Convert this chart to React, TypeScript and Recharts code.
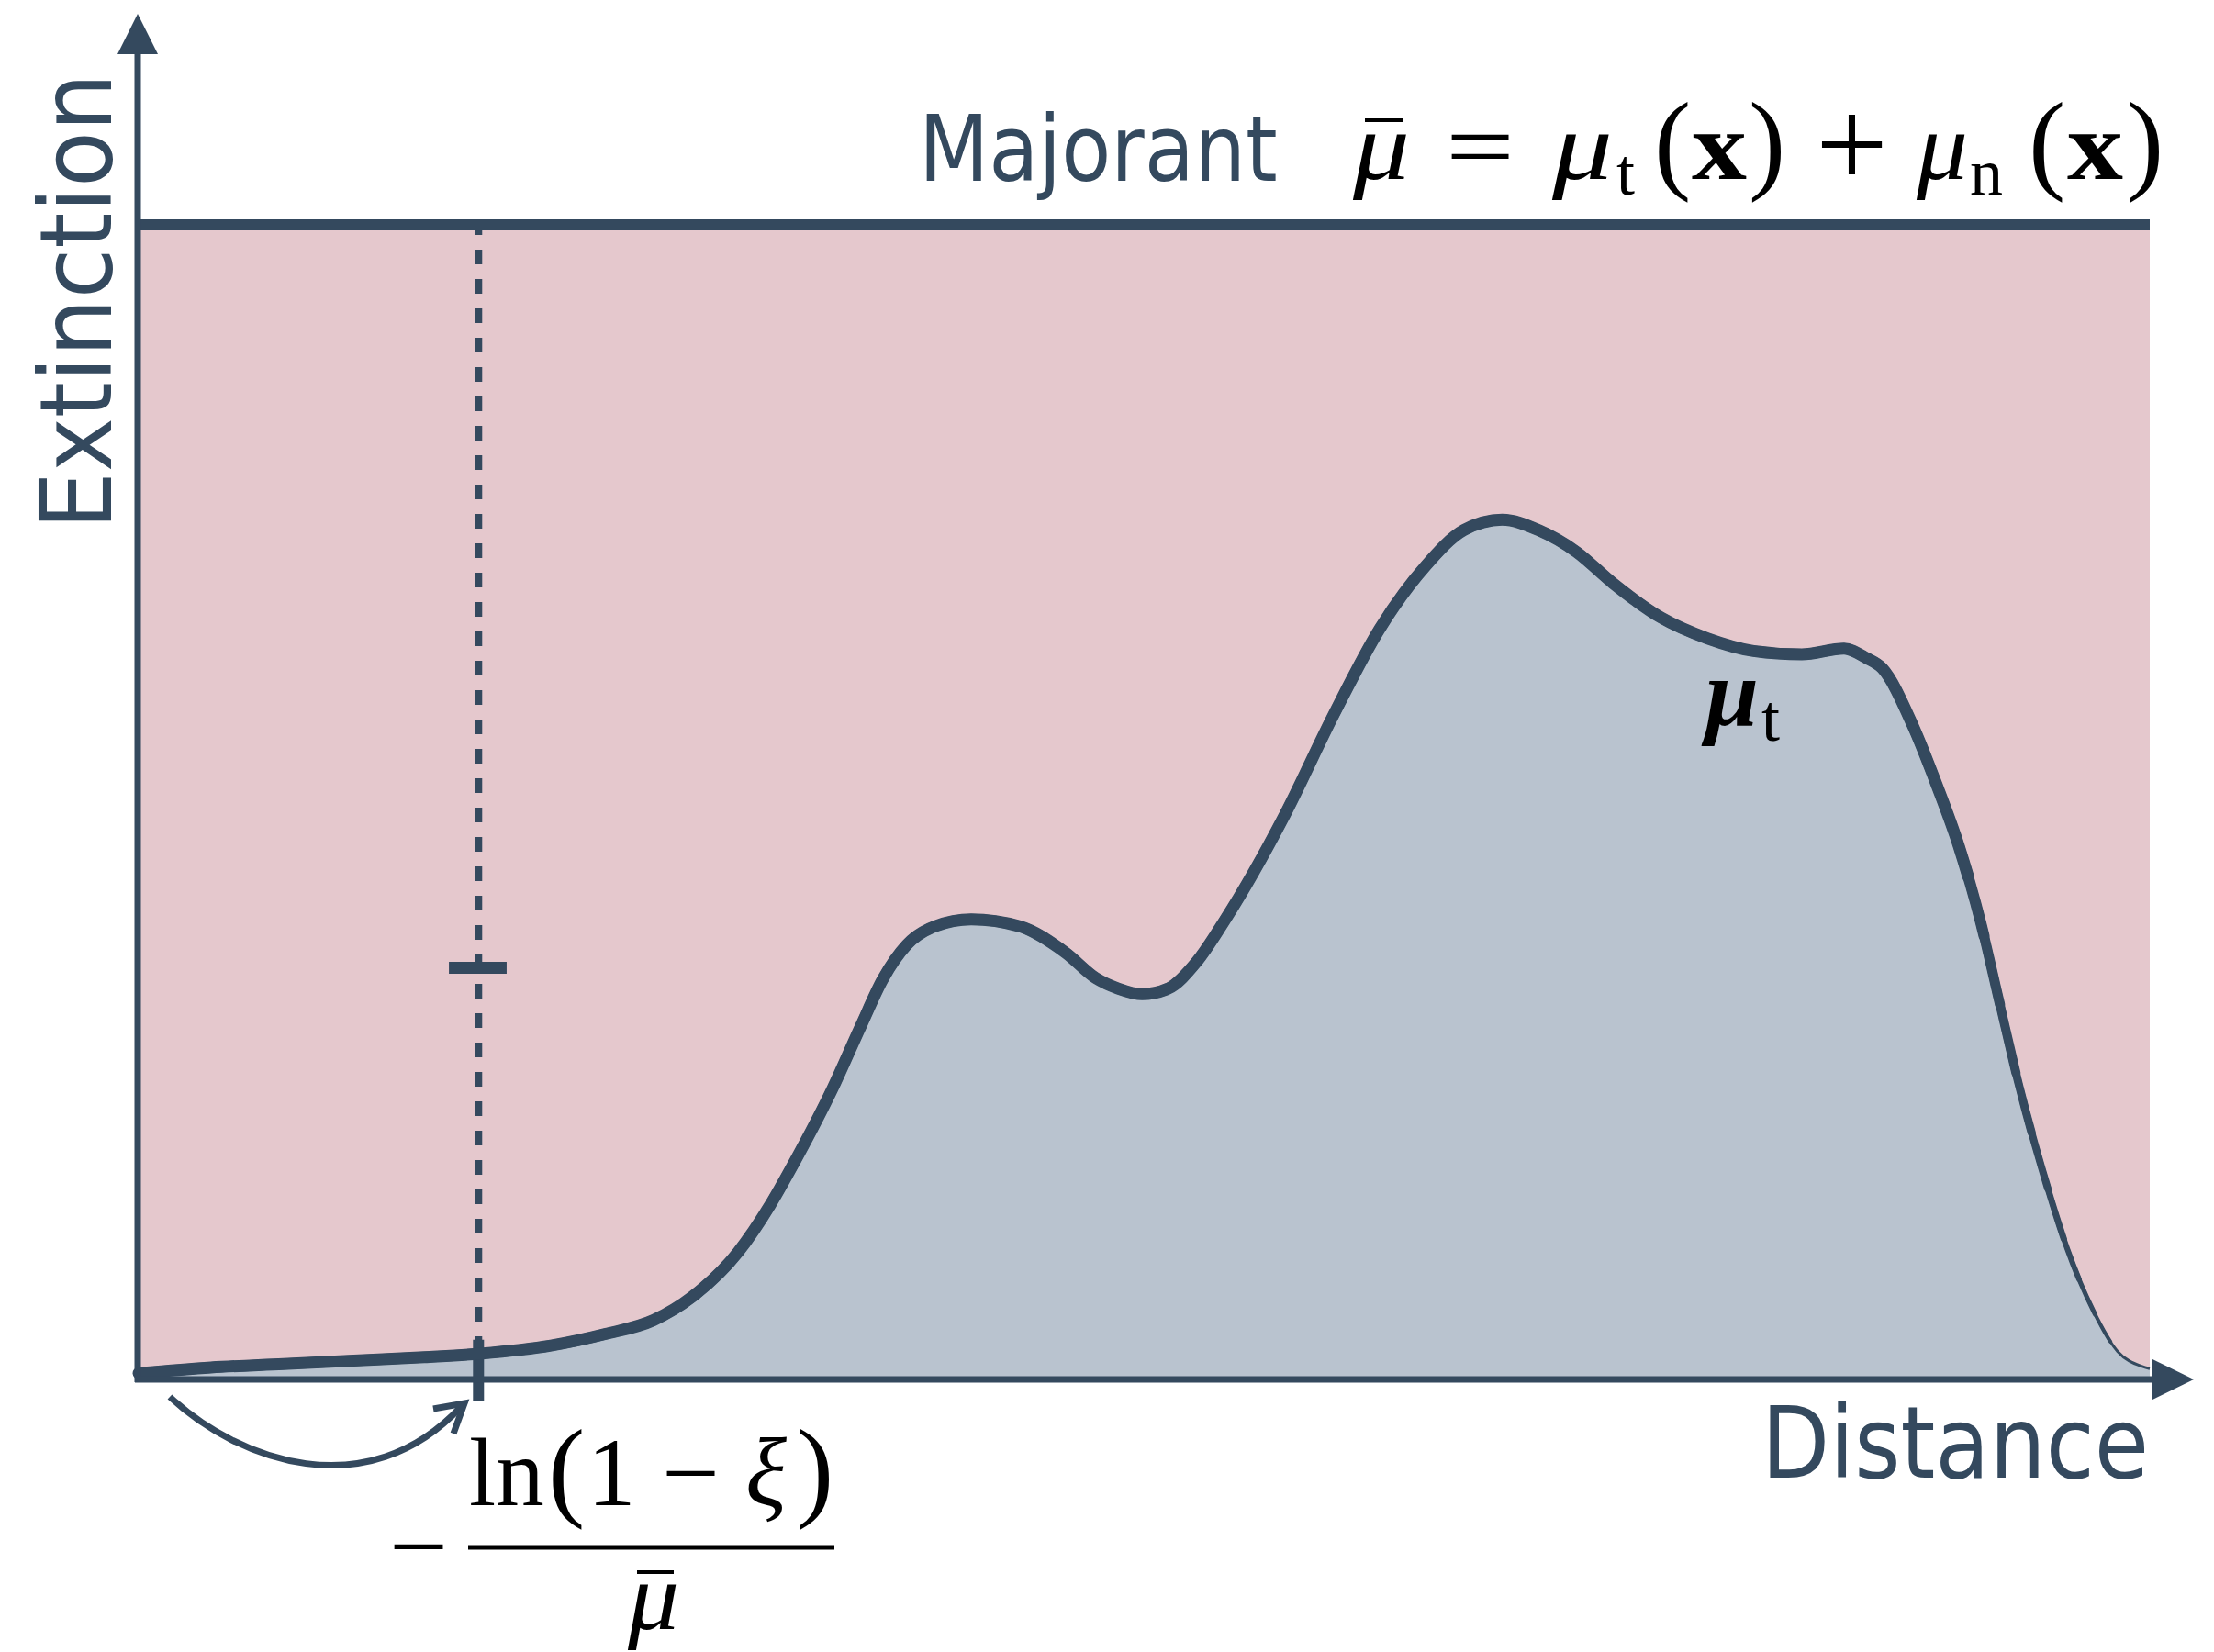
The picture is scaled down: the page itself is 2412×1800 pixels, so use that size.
import React from "react";
import { ComposedChart, Area, Line, XAxis, YAxis, ReferenceLine } from "recharts";

// #region data
const distance = [
  0, 3.6, 7.2, 10.7, 14.2, 17, 20.5, 23.2, 25.6, 27.5, 29.8, 31.4, 32.6, 34.5, 35.9, 37, 38.2, 39.6,
  41.4, 43.8, 46.1, 47.6, 48.7, 49.9, 51.2, 52.6, 54, 57, 59.4, 61.7, 64, 65.9, 67.8, 69.6, 71.5, 73.3,
  75.7, 78, 80.3, 82.7, 84.8, 85.9, 86.7, 88.2, 89.4, 90.5, 91.6, 92.5, 93.5, 94.7, 95.9, 97.2, 98.4,
  99.6, 100,
];
const extinction = [
  0.03, 0.08, 0.11, 0.14, 0.17, 0.2, 0.27, 0.37, 0.49, 0.69, 1.08, 1.49, 1.86, 2.5, 3.04, 3.45, 3.75, 3.91,
  3.97, 3.91, 3.68, 3.46, 3.37, 3.32, 3.37, 3.6, 3.96, 4.88, 5.74, 6.49, 7.04, 7.35, 7.44, 7.35, 7.16, 6.89,
  6.59, 6.41, 6.3, 6.27, 6.32, 6.24, 6.15, 5.66, 5.14, 4.61, 3.94, 3.27, 2.53, 1.77, 1.11, 0.57, 0.22,
  0.09, 0.07,
];
const MAJORANT = 10;
const SAMPLE_X = 16.9; // the sampled distance
const SAMPLE_MARK_Y = 3.55; // small tick on the dashed line
// #endregion

const W = 2412;
const H = 1800;
const MARGIN = { top: 245, right: 70, bottom: 300, left: 151 };
const PX_X = (W - MARGIN.left - MARGIN.right) / 100;
const PX_Y = (H - MARGIN.top - MARGIN.bottom) / MAJORANT;

// the curve's stroke tapers towards its right end: each layer is the whole
// curve, drawn only up to a given distance with a single long dash
const TAPER = [
  { until: 91, width: 13 },
  { until: 91.8, width: 12 },
  { until: 92.6, width: 11 },
  { until: 93.4, width: 10 },
  { until: 94.2, width: 9 },
  { until: 95, width: 8 },
  { until: 95.8, width: 7 },
  { until: 96.6, width: 6 },
  { until: 97.4, width: 5 },
  { until: 98.2, width: 4 },
];

// rough length of the drawn curve from its start to a given distance
const lengthUntil = (until: number) => {
  let len = 0;
  for (let i = 1; i < distance.length; i++) {
    const x0 = distance[i - 1];
    if (x0 >= until) break;
    const f = Math.min(1, (until - x0) / (distance[i] - x0));
    const dx = (distance[i] - x0) * PX_X;
    const dy = (extinction[i] - extinction[i - 1]) * PX_Y;
    len += f * Math.sqrt(dx * dx + dy * dy);
  }
  return len;
};

const INK = "#34495E";
const PINK = "#E5C8CD";
const BLUE = "#B9C3CF";
const HAND = "'DejaVu Sans', 'Noto Sans', sans-serif";
const MATH = "'Liberation Serif', 'DejaVu Serif', serif";

const table = distance.map((x, i) => ({ x, mu: extinction[i], majorant: MAJORANT }));

// labels, arrows and formulas drawn on top of the chart
const Overlay = () => (
  <svg width={W} height={H} style={{ position: "absolute", left: 0, top: 0, pointerEvents: "none" }}>
    {/* axes with arrow heads */}
    <line x1={150} y1={1506} x2={150} y2={56} stroke={INK} strokeWidth={7} />
    <polygon points="128,59 172,59 150,15" fill={INK} />
    <line x1={147} y1={1503} x2={2348} y2={1503} stroke={INK} strokeWidth={7} />
    <polygon points="2345,1481 2345,1525 2390,1503" fill={INK} />

    {/* curved arrow from origin to sample */}
    <path d="M 185 1522 C 260 1592, 400 1642, 502 1533" fill="none" stroke={INK} strokeWidth={7} />
    <polyline points="472,1535 506,1529 494,1562" fill="none" stroke={INK} strokeWidth={7} />

    {/* hand written labels */}
    <text transform="translate(121,577) rotate(-90) scale(0.922,1)" fontFamily={HAND} fontSize={108} fill={INK}>
      Extinction
    </text>
    <text transform="translate(1001,197) scale(0.885,1)" fontFamily={HAND} fontSize={100} fill={INK}>
      Majorant
    </text>
    <text transform="translate(1919,1610) scale(0.894,1)" fontFamily={HAND} fontSize={108} fill={INK}>
      Distance
    </text>

    {/* majorant formula */}
    <g fontFamily={MATH} fill="#000">
      <line x1={1487} y1={131} x2={1529} y2={131} stroke="#000" strokeWidth={4} />
      <text x={1474} y={195} fontSize={105} fontStyle="italic" textLength={62} lengthAdjust="spacingAndGlyphs">μ</text>
      <text x={1575} y={195} fontSize={105} textLength={75} lengthAdjust="spacingAndGlyphs">=</text>
      <text x={1691} y={195} fontSize={105} fontStyle="italic" textLength={66} lengthAdjust="spacingAndGlyphs">μ</text>
      <text x={1761} y={212} fontSize={72}>t</text>
      <text x={1802} y={195} fontSize={121}>(</text>
      <text x={1843} y={195} fontSize={105} fontWeight="bold" textLength={60} lengthAdjust="spacingAndGlyphs">x</text>
      <text x={1905} y={195} fontSize={121}>)</text>
      <text x={1978} y={204} fontSize={140}>+</text>
      <text x={2088} y={195} fontSize={105} fontStyle="italic" textLength={56} lengthAdjust="spacingAndGlyphs">μ</text>
      <text x={2146} y={212} fontSize={72}>n</text>
      <text x={2210} y={195} fontSize={121}>(</text>
      <text x={2252} y={195} fontSize={105} fontWeight="bold" textLength={61} lengthAdjust="spacingAndGlyphs">x</text>
      <text x={2317} y={195} fontSize={121}>)</text>
    </g>

    {/* curve label */}
    <g fontFamily={MATH} fill="#000">
      <text x={1858} y={790} fontSize={105} fontStyle="italic" fontWeight="bold" textLength={58} lengthAdjust="spacingAndGlyphs">μ</text>
      <text x={1919} y={807} fontSize={72}>t</text>
    </g>

    {/* sampled distance formula */}
    <g fontFamily={MATH} fill="#000">
      <text x={424} y={1720} fontSize={105} textLength={64} lengthAdjust="spacingAndGlyphs">−</text>
      <line x1={510} y1={1686} x2={909} y2={1686} stroke="#000" strokeWidth={5} />
      <text x={511} y={1640} fontSize={105}>ln</text>
      <text x={597} y={1641} fontSize={121}>(</text>
      <text x={640} y={1640} fontSize={105}>1</text>
      <text x={721} y={1640} fontSize={105} textLength={63} lengthAdjust="spacingAndGlyphs">−</text>
      <text x={812} y={1640} fontSize={105} fontStyle="italic">ξ</text>
      <text x={868} y={1641} fontSize={121}>)</text>
      <line x1={694} y1={1713} x2={734} y2={1713} stroke="#000" strokeWidth={4} />
      <text x={684} y={1775} fontSize={105} fontStyle="italic" textLength={56} lengthAdjust="spacingAndGlyphs">μ</text>
    </g>
  </svg>
);

const App = () => {
  return (
    <div style={{ position: "absolute", left: 0, top: 0, width: W, height: H, background: "#fff" }}>
      <ComposedChart width={W} height={H} data={table} margin={MARGIN}>
        <XAxis type="number" dataKey="x" domain={[0, 100]} hide />
        <YAxis type="number" domain={[0, MAJORANT]} hide />
        <Area
          type="linear"
          dataKey="majorant"
          fill={PINK}
          fillOpacity={1}
          stroke="none"
          isAnimationActive={false}
        />
        <Area
          type="monotone"
          dataKey="mu"
          fill={BLUE}
          fillOpacity={1}
          stroke="none"
          isAnimationActive={false}
        />
        <ReferenceLine
          segment={[
            { x: SAMPLE_X, y: MAJORANT },
            { x: SAMPLE_X, y: 0 },
          ]}
          stroke={INK}
          strokeWidth={8}
          strokeDasharray="16 16"
          strokeDashoffset={5}
        />
        <ReferenceLine
          segment={[
            { x: 15.43, y: SAMPLE_MARK_Y },
            { x: 18.3, y: SAMPLE_MARK_Y },
          ]}
          stroke={INK}
          strokeWidth={13}
        />
        <ReferenceLine
          segment={[
            { x: SAMPLE_X, y: 0.32 },
            { x: SAMPLE_X, y: -0.215 },
          ]}
          stroke={INK}
          strokeWidth={12}
          ifOverflow="visible"
        />
        {/* thin full curve, thicker strokes laid over the left part */}
        <Line type="monotone" dataKey="mu" stroke={INK} strokeWidth={3} dot={false} isAnimationActive={false} />
        {TAPER.slice()
          .reverse()
          .map((t) => (
            <Line
              key={t.until}
              type="monotone"
              dataKey="mu"
              stroke={INK}
              strokeWidth={t.width}
              strokeLinecap="round"
              strokeDasharray={`${lengthUntil(t.until).toFixed(1)} 100000`}
              dot={false}
              isAnimationActive={false}
            />
          ))}
        <Line type="linear" dataKey="majorant" stroke={INK} strokeWidth={12} dot={false} isAnimationActive={false} />
      </ComposedChart>
      <Overlay />
    </div>
  );
};

export default App;
